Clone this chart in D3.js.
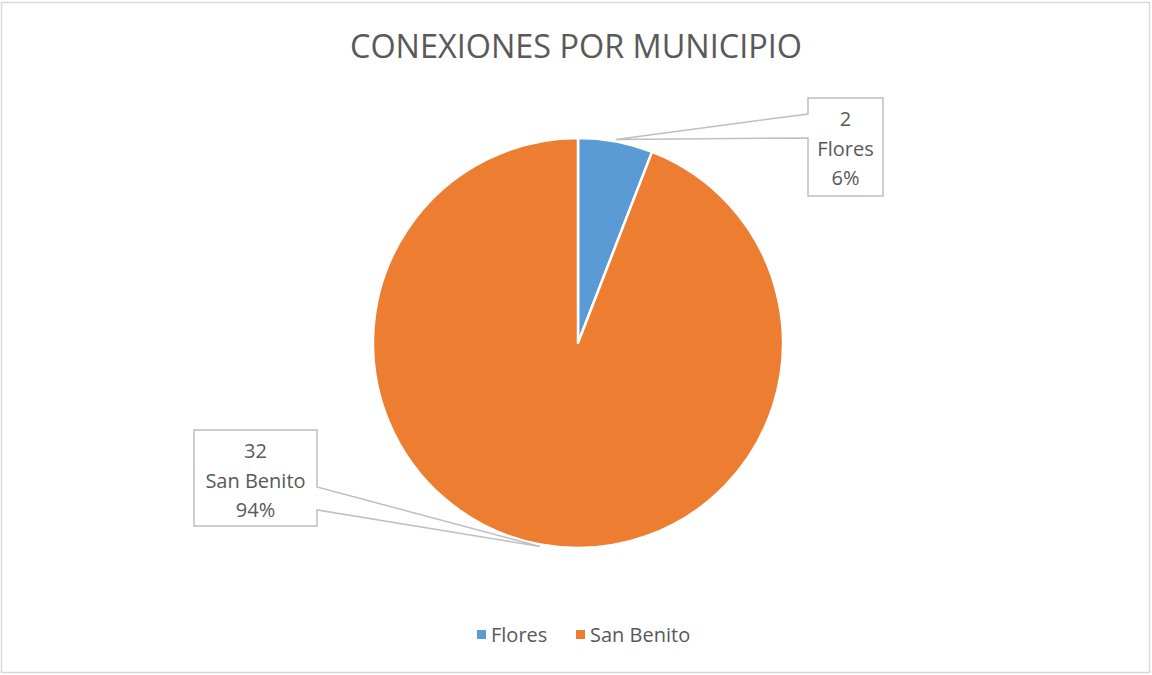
<!DOCTYPE html>
<meta charset="utf-8">
<script src="https://d3js.org/d3.v7.min.js"></script>
<style>
  body { margin: 0; background: #fff; }
  text { font-family: "Open Sans", sans-serif; fill: #595959; }
</style>
<div id="chart"></div>
<script>
// data
var categories = ["Flores", "San Benito"];
var values = [2, 32];
var colors = ["#5B9BD5", "#ED7D31"];
var title = "CONEXIONES POR MUNICIPIO";

var width = 1152, height = 675;
var cx = 578, cy = 343, radius = 205;

var svg = d3.select("#chart").append("svg")
  .attr("width", width)
  .attr("height", height);

// outer chart frame
svg.append("rect")
  .attr("x", 1.5).attr("y", 2.5)
  .attr("width", 1148).attr("height", 670)
  .attr("fill", "#fff")
  .attr("stroke", "#D9D9D9")
  .attr("stroke-width", 1.5);

// title
svg.append("text")
  .attr("x", 576).attr("y", 58)
  .attr("text-anchor", "middle")
  .style("font-size", "33px")
  .attr("textLength", 452)
  .attr("lengthAdjust", "spacingAndGlyphs")
  .text(title);

var data = categories.map(function(c, i) { return {name: c, value: values[i], color: colors[i]}; });
var total = d3.sum(values);

var pie = d3.pie().sort(null).value(function(d) { return d.value; });
var arcs = pie(data);
var arc = d3.arc().innerRadius(0).outerRadius(radius);

var g = svg.append("g").attr("transform", "translate(" + cx + "," + cy + ")");

g.selectAll("path.slice")
  .data(arcs)
  .enter().append("path")
    .attr("class", "slice")
    .attr("d", arc)
    .attr("fill", function(d) { return d.data.color; })
    .attr("stroke", "#fff")
    .attr("stroke-width", 2.5)
    .attr("stroke-linejoin", "round");

// callout boxes (position of each box set by hand, like Excel does)
var boxes = [
  {x: 808, y: 98, w: 75, h: 98, side: "left", a: 114, b: 138},
  {x: 194, y: 430, w: 123, h: 96, side: "right", a: 487, b: 510}
];

var fmt = d3.format(".0%");
arcs.forEach(function(d, i) {
  var b = boxes[i];
  var mid = (d.startAngle + d.endAngle) / 2;
  var tx = cx + Math.sin(mid) * (radius + 2);
  var ty = cy - Math.cos(mid) * (radius + 2);

  // callout shape: box plus pointer
  var p = d3.path();
  if (b.side === "left") {
    p.moveTo(b.x, b.y);
    p.lineTo(b.x + b.w, b.y);
    p.lineTo(b.x + b.w, b.y + b.h);
    p.lineTo(b.x, b.y + b.h);
    p.lineTo(b.x, b.b);
    p.lineTo(tx, ty);
    p.lineTo(b.x, b.a);
    p.closePath();
  } else {
    p.moveTo(b.x, b.y);
    p.lineTo(b.x + b.w, b.y);
    p.lineTo(b.x + b.w, b.a);
    p.lineTo(tx, ty);
    p.lineTo(b.x + b.w, b.b);
    p.lineTo(b.x + b.w, b.y + b.h);
    p.lineTo(b.x, b.y + b.h);
    p.closePath();
  }
  svg.append("path")
    .attr("d", p.toString())
    .attr("fill", "#fff")
    .attr("stroke", "#BFBFBF")
    .attr("stroke-width", 1.5);

  var lines = [String(d.data.value), d.data.name, fmt(d.data.value / total)];
  var t = svg.append("text")
    .attr("text-anchor", "middle")
    .style("font-size", "20px");
  lines.forEach(function(s, k) {
    t.append("tspan")
      .attr("x", b.x + b.w / 2)
      .attr("y", b.y + 28 + k * 29.5)
      .text(s);
  });
});

// legend
var legendX = [477, 576];
var lg = svg.append("g");
data.forEach(function(d, i) {
  lg.append("rect")
    .attr("x", legendX[i]).attr("y", 630)
    .attr("width", 9).attr("height", 9)
    .attr("fill", d.color);
  lg.append("text")
    .attr("x", legendX[i] + 14).attr("y", 642)
    .style("font-size", "20px")
    .text(d.name);
});
</script>
